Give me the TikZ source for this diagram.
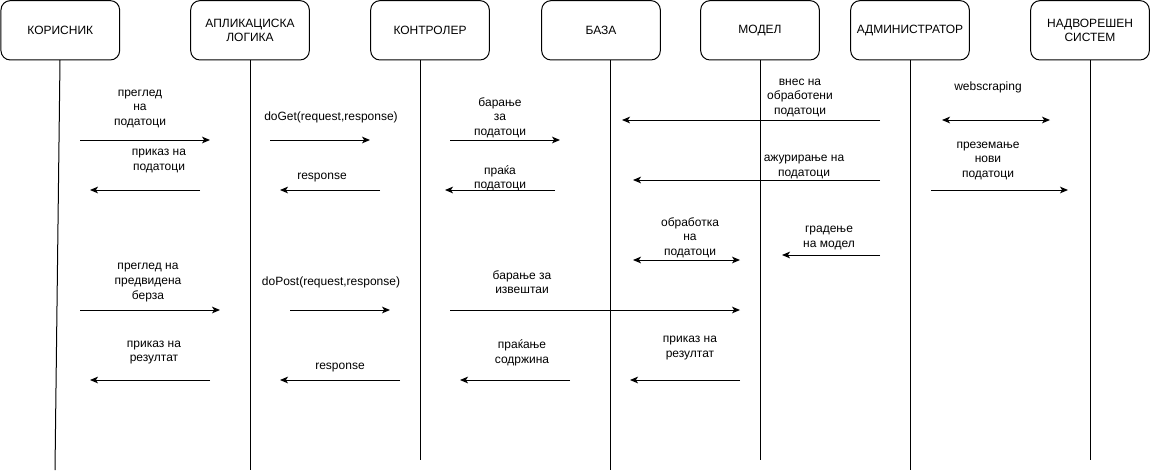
\documentclass[tikz,border=0pt]{standalone}
\usepackage{fontspec}
\setmainfont{Liberation Sans}
\usetikzlibrary{arrows.meta}
\begin{document}
\begin{tikzpicture}[x=0.75pt,y=-0.75pt,
  box/.style={draw, rounded corners=7pt, line width=0.75pt, minimum width=89pt, minimum height=44.5pt, align=center, inner sep=0pt, font=\fontsize{9}{11}\selectfont},
  life/.style={line width=0.75pt},
  msg/.style={line width=0.75pt, -{Stealth[length=6pt,width=5pt,inset=1.6pt]}},
  dmsg/.style={line width=0.75pt, {Stealth[length=6pt,width=5pt,inset=1.6pt]}-{Stealth[length=6pt,width=5pt,inset=1.6pt]}},
  lbl/.style={align=center, inner sep=0pt, font=\fontsize{9}{11}\selectfont, yshift=-2pt}]
\useasboundingbox (0,0) rectangle (1151,472);
% boxes
\node[box] (k) at (60.3,30.3) {КОРИСНИК};
\node[box] (a) at (250,30.3) {АПЛИКАЦИСКА\\ЛОГИКА};
\node[box] (c) at (430,30.3) {КОНТРОЛЕР};
\node[box] (b) at (601,30.3) {БАЗА};
\node[box] (m) at (760,30.3) {МОДЕЛ};
\node[box] (ad) at (910,30.3) {АДМИНИСТРАТОР};
\node[box] (n) at (1090,30.3) {НАДВОРЕШЕН\\СИСТЕМ};
% lifelines
\coordinate (kt) at (60,60); \coordinate (kb) at (55,470);
\coordinate (at) at (250,60); \coordinate (ab) at (250,470);
\coordinate (ct) at (420,60); \coordinate (cb) at (420,460);
\coordinate (bt) at (610,60); \coordinate (bb) at (610,470);
\coordinate (mt) at (760,60); \coordinate (mb) at (760,460);
\coordinate (adt) at (910,60); \coordinate (adb) at (910,470);
\coordinate (nt) at (1090,60); \coordinate (nb) at (1090,460);
\draw[life] (kt) -- (kb);
\draw[life] (at) -- (ab);
\draw[life] (ct) -- (cb);
\draw[life] (bt) -- (bb);
\draw[life] (mt) -- (mb);
\draw[life] (adt) -- (adb);
\draw[life] (nt) -- (nb);
% message end points
\coordinate (s1) at (80,140);   \coordinate (e1) at (210,140);
\coordinate (s2) at (270,140);  \coordinate (e2) at (370,140);
\coordinate (s3) at (450,140);  \coordinate (e3) at (560,140);
\coordinate (s4) at (200,190);  \coordinate (e4) at (90,190);
\coordinate (s5) at (380,190);  \coordinate (e5) at (280,190);
\coordinate (s6) at (555,190);  \coordinate (e6) at (445,190);
\coordinate (s7) at (880,120);  \coordinate (e7) at (622,120);
\coordinate (s8) at (942,120);  \coordinate (e8) at (1050,120);
\coordinate (s9) at (880,180);  \coordinate (e9) at (633,180);
\coordinate (s10) at (931,190); \coordinate (e10) at (1068,190);
\coordinate (s11) at (633,260); \coordinate (e11) at (740,260);
\coordinate (s12) at (880,255); \coordinate (e12) at (782,255);
\coordinate (s13) at (80,310);  \coordinate (e13) at (220,310);
\coordinate (s14) at (290,310); \coordinate (e14) at (390,310);
\coordinate (s15) at (450,310); \coordinate (e15) at (740,310);
\coordinate (s16) at (210,380); \coordinate (e16) at (90,380);
\coordinate (s17) at (400,380); \coordinate (e17) at (280,380);
\coordinate (s18) at (570,380); \coordinate (e18) at (460,380);
\coordinate (s19) at (740,380); \coordinate (e19) at (630,380);
\foreach \i in {1,2,3,4,5,6,7,9,10,12,13,14,15,16,17,18,19}{\draw[msg] (s\i) -- (e\i);}
\draw[dmsg] (s8) -- (e8);
\draw[dmsg] (s11) -- (e11);
% labels
\node[lbl] (l1) at (140,106) {преглед\\на\\податоци};
\node[lbl] (l2) at (331,115) {doGet(request,response)};
\node[lbl] (l3) at (500,115) {барање\\за\\податоци};
\node[lbl] (l4) at (159,158.5) {приказ на\\податоци};
\node[lbl] (l5) at (322,175) {response};
\node[lbl] (l6) at (500,175.5) {праќа\\податоци};
\node[lbl] (l7) at (800,95) {внес на\\обработени\\податоци};
\node[lbl] (l8) at (988,85) {webscraping};
\node[lbl] (l9) at (804,164.5) {ажурирање на\\податоци};
\node[lbl] (l10) at (988,158) {преземање\\нови\\податоци};
\node[lbl] (l11) at (690,235) {обработка\\на\\податоци};
\node[lbl] (l12) at (829,235.5) {градење\\на модел};
\node[lbl] (l13) at (148,280) {преглед на\\предвидена\\берза};
\node[lbl] (l14) at (331,280) {doPost(request,response)};
\node[lbl] (l15) at (522,279.5) {барање за\\извештаи};
\node[lbl] (l16) at (154,350) {приказ на\\резултат};
\node[lbl] (l17) at (340,365) {response};
\node[lbl] (l18) at (522,350) {праќање\\содржина};
\node[lbl] (l19) at (690,345.5) {приказ на\\резултат};
\end{tikzpicture}
\end{document}
